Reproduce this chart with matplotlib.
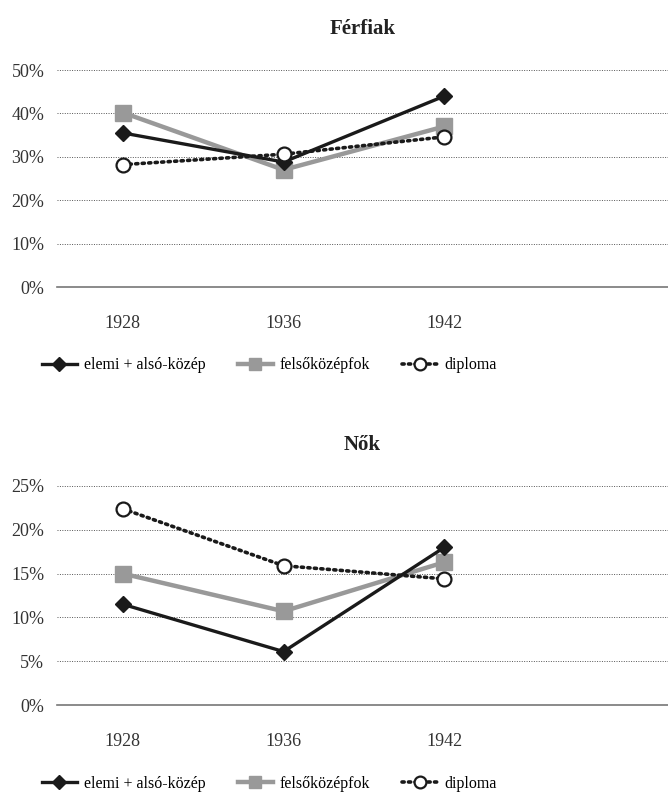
import numpy as np
import matplotlib.pyplot as plt
from matplotlib.ticker import FuncFormatter

plt.rcParams['font.family'] = ['Liberation Serif', 'DejaVu Serif']

years = ['1928', '1936', '1942']
series_names = ['elemi + alsó-közép', 'felsőközépfok', 'diploma']

# Férfiak (percent)
men_elemi = [35.5, 28.8, 44.0]
men_felso = [40.2, 27.0, 37.0]
men_diploma = [28.2, 30.6, 34.6]

# Nők (percent)
women_elemi = [11.5, 6.1, 18.0]
women_felso = [15.0, 10.7, 16.3]
women_diploma = [22.4, 15.9, 14.4]

BLACK = '#1a1a1a'
GREY = '#999999'


def draw_panel(ax, title, elemi, felso, diploma, ymax, ystep):
    x = np.arange(len(years))
    ax.plot(x, felso, color=GREY, lw=3.2, marker='s', ms=11, mfc=GREY, mec=GREY,
            label=series_names[1], zorder=3)
    ax.plot(x, elemi, color=BLACK, lw=2.4, marker='D', ms=8.5, mfc=BLACK, mec=BLACK,
            label=series_names[0], zorder=4)
    ax.plot(x, diploma, color=BLACK, lw=2.6, ls=(0, (0.6, 1.2)), dash_capstyle='round',
            marker='o', ms=10, mfc='white', mec=BLACK, mew=1.6,
            label=series_names[2], zorder=5)

    ax.set_xlim(-0.41, 3.39)
    ax.set_ylim(0, ymax)
    ax.set_yticks(np.arange(0, ymax + 0.1, ystep))
    ax.yaxis.set_major_formatter(FuncFormatter(lambda v, p: f'{v:.0f}%'))
    ax.set_xticks(x)
    ax.set_xticklabels(years)
    ax.tick_params(length=0, labelsize=13, colors='#333333')
    ax.tick_params(axis='x', pad=20)
    ax.tick_params(axis='y', pad=9)
    ax.grid(axis='y', color='#555555', lw=0.7, ls=(0, (1, 1.5)))
    for s in ['top', 'right', 'left']:
        ax.spines[s].set_visible(False)
    ax.spines['bottom'].set_color('#777777')
    ax.spines['bottom'].set_linewidth(1.2)
    ax.set_axisbelow(True)
    ax.set_title(title, fontsize=15, fontweight='bold', pad=26, color='#222222')

    handles, labels = ax.get_legend_handles_labels()
    order = [1, 0, 2]
    ax.legend([handles[i] for i in order], [labels[i] for i in order],
              loc='upper left', bbox_to_anchor=(-0.035, -0.295), ncol=3, frameon=False,
              fontsize=11.5, handlelength=2.2, columnspacing=2.0, handletextpad=0.45,
              markerscale=0.85, borderaxespad=0)


fig = plt.figure(figsize=(6.68, 7.92), dpi=100)
ax1 = fig.add_axes([0.085, 0.6376, 0.915, 0.274])
ax2 = fig.add_axes([0.085, 0.1098, 0.915, 0.2766])

draw_panel(ax1, 'Férfiak', men_elemi, men_felso, men_diploma, 50, 10)
draw_panel(ax2, 'Nők', women_elemi, women_felso, women_diploma, 25, 5)

fig.savefig('out.png', dpi=100)
